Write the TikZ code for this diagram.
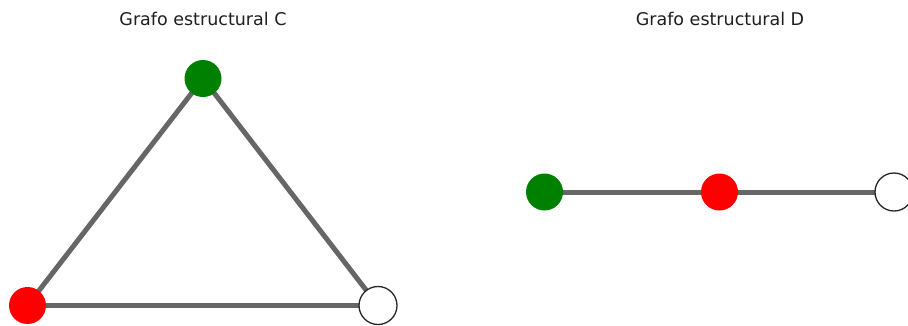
\documentclass[tikz,border=0pt]{standalone}
\usepackage{fontspec}
\setmainfont{DejaVu Sans}
\begin{document}
\begin{tikzpicture}[x=1pt,y=-1pt,
  vtx/.style={circle,inner sep=0pt,minimum size=37pt,draw=none},
  gnode/.style={vtx,fill={rgb,255:red,0;green,128;blue,0}},
  rnode/.style={vtx,fill={rgb,255:red,255;green,0;blue,0}},
  wnode/.style={vtx,fill=white,draw=black!85,line width=1.3pt,minimum size=38pt},
  edge/.style={draw={rgb,255:red,102;green,102;blue,102},line width=5pt},
  ttl/.style={anchor=base,font=\fontsize{17.5}{20}\selectfont,text={rgb,255:red,30;green,30;blue,30}}]
\useasboundingbox (0,0) rectangle (908,325);
\node[ttl] (tc) at (203,25) {Grafo estructural C};
\node[ttl] (td) at (720,25) {Grafo estructural D};
% graph C
\coordinate (cg) at (203,78.5);
\coordinate (cr) at (27.5,305.5);
\coordinate (cw) at (378,305.5);
\draw[edge] (cg) -- (cr);
\draw[edge] (cg) -- (cw);
\draw[edge] (cr) -- (cw);
\node[gnode] (g1) at (cg) {};
\node[rnode] (r1) at (cr) {};
\node[wnode] (w1) at (cw) {};
% graph D
\coordinate (dg) at (544.5,192);
\coordinate (dr) at (719.5,192);
\coordinate (dw) at (894,192);
\draw[edge] (dg) -- (dr);
\draw[edge] (dr) -- (dw);
\node[gnode] (g2) at (dg) {};
\node[rnode] (r2) at (dr) {};
\node[wnode] (w2) at (dw) {};
\end{tikzpicture}
\end{document}
